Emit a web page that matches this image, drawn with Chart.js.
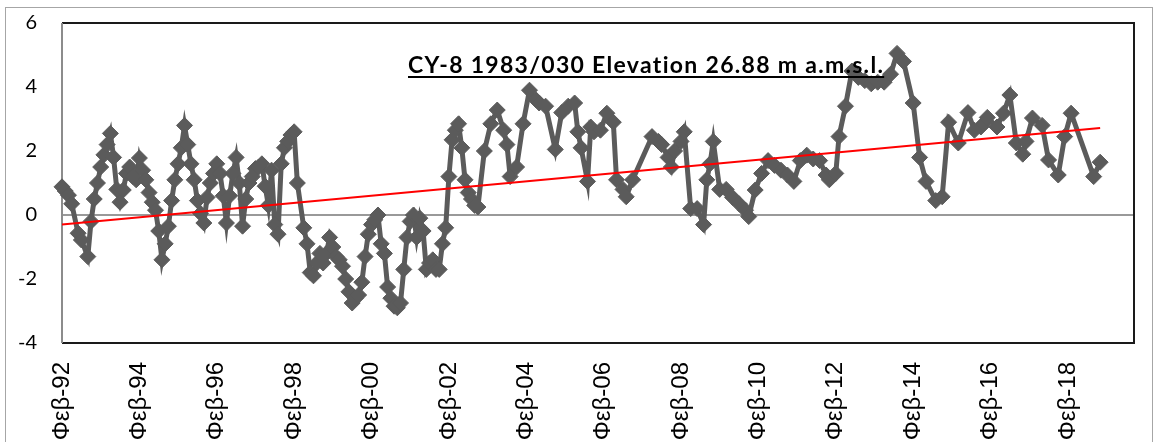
<!DOCTYPE html>
<html><head><meta charset="utf-8">
<script src="https://cdn.jsdelivr.net/npm/chart.js@4.4.1/dist/chart.umd.min.js"></script>
<style>
html,body{margin:0;padding:0;background:#fff;}
#wrap{position:relative;width:1156px;height:442px;overflow:hidden;}
#frame{position:absolute;left:5px;top:7px;width:1148px;height:470px;border:1px solid #a6a6a6;box-sizing:border-box;}
#title{position:absolute;left:408px;top:51px;font-family:Lato;font-weight:bold;font-size:23px;letter-spacing:1.3px;line-height:26px;text-decoration:underline;text-decoration-thickness:2px;text-underline-offset:3px;white-space:nowrap;color:#000;}
canvas{position:absolute;left:0;top:0;}
</style></head><body>
<div id="wrap"><div id="frame"></div><canvas id="c" width="1156" height="442"></canvas><div id="title">CY-8 1983/030 Elevation 26.88 m a.m.s.l.</div></div>
<script>
// months since Feb 1992
const months = [0,1,2,3,5,6,8,9,10,11,12,13,14,15,16,17,18,19,20,21,22,23,24,25,26,27,28,29,30,31,32,33,34,35,36,37,38,39,40,41,42,43,44,45,46,47,48,49,50,51,52,53,54,55,56,57,58,59,60,61,62,63,64,65,66,67,68,69,70,71,72,73,75,76,77,78,79,80,81,82,83,84,85,86,87,88,89,90,91,92,93,94,95,96,97,98,99,100,101,102,103,104,105,106,107,108,109,110,111,112,113,114,115,116,117,118,119,120,121,122,123,124,125,126,127,128,129,131,133,135,137,138,139,141,143,145,147,148,150,153,155,157,159,160,161,163,164,165,167,169,171,172,174,175,177,183,185,186,188,189,190,192,193,195,197,199,200,201,202,204,206,208,210,212,213,215,217,219,221,223,225,227,229,231,233,235,237,238,240,241,243,245,247,249,251,253,255,257,259,261,264,266,268,271,273,275,278,281,283,285,286,287,290,292,294,296,298,299,301,304,306,309,311,313,320,322];
const levels = [0.88,0.75,0.62,0.35,-0.57,-0.78,-1.3,-0.2,0.5,1.0,1.5,1.88,2.2,2.55,1.8,0.8,0.4,0.78,1.3,1.5,1.2,1.1,1.78,1.4,1.1,0.7,0.4,0.15,-0.5,-1.4,-0.9,-0.35,0.45,1.1,1.6,2.1,2.8,2.2,1.6,1.1,0.45,0.05,-0.25,0.55,1.0,1.3,1.6,1.3,0.6,-0.25,0.6,1.3,1.8,1.0,-0.35,0.5,1.0,1.2,1.45,1.5,1.6,0.9,0.3,1.4,-0.3,-0.6,1.6,2.1,2.3,2.5,2.6,1.0,-0.4,-0.9,-1.8,-1.9,-1.5,-1.2,-1.5,-1.2,-0.7,-1.0,-1.3,-1.4,-1.6,-2.0,-2.4,-2.75,-2.6,-2.5,-2.1,-1.3,-0.6,-0.3,-0.15,0.0,-0.9,-1.2,-2.25,-2.6,-2.85,-2.9,-2.75,-1.7,-0.7,-0.2,0.0,-0.7,-0.1,-0.5,-1.7,-1.5,-1.4,-1.7,-1.7,-0.9,-0.4,1.2,2.35,2.65,2.85,2.1,1.1,0.7,0.5,0.3,0.25,2.0,2.85,3.28,2.65,2.2,1.2,1.5,2.85,3.9,3.6,3.5,3.4,2.05,3.2,3.4,3.5,2.6,2.1,1.05,2.75,2.6,2.65,3.18,2.9,1.1,0.8,0.57,1.1,2.45,2.3,2.2,1.8,1.5,2.0,2.3,2.6,0.2,0.2,-0.3,1.1,1.6,2.3,0.8,0.8,0.55,0.35,0.15,-0.05,0.78,1.3,1.7,1.55,1.4,1.25,1.05,1.7,1.87,1.75,1.7,1.25,1.1,1.3,2.45,3.4,4.5,4.3,4.2,4.1,4.15,4.15,4.4,5.05,4.8,3.5,1.8,1.05,0.45,0.57,2.9,2.25,3.2,2.65,2.75,2.87,3.05,2.75,3.18,3.75,2.25,1.9,2.3,3.03,2.8,1.72,1.25,2.45,3.18,1.2,1.65];
// linear trend line end points
const trendMonths = [0, 322];
const trendValues = [-0.3, 2.72];
// x tick labels every 24 months from Feb 1992
const tickLabels = ['Φεβ-92','Φεβ-94','Φεβ-96','Φεβ-98','Φεβ-00','Φεβ-02','Φεβ-04','Φεβ-06','Φεβ-08','Φεβ-10','Φεβ-12','Φεβ-14','Φεβ-16','Φεβ-18'];
const yTicks = [-4,-2,0,2,4,6];

const framePlugin = {
  id: 'frame',
  beforeDatasetsDraw(chart) {
    const {ctx, chartArea: a} = chart;
    ctx.save();
    ctx.lineWidth = 2;
    ctx.strokeStyle = '#1a1a1a';
    ctx.beginPath();
    ctx.moveTo(a.left, a.top); ctx.lineTo(a.right, a.top);
    ctx.lineTo(a.right, a.bottom); ctx.lineTo(a.left, a.bottom);
    ctx.stroke();
    ctx.strokeStyle = '#8c8c8c';
    ctx.beginPath(); ctx.moveTo(a.left, a.top); ctx.lineTo(a.left, a.bottom); ctx.stroke();
    ctx.restore();
  }
};

function zeroPad(s) { s.paddingTop = 0; s.paddingBottom = 0; s.paddingLeft = 0; s.paddingRight = 0; }

new Chart(document.getElementById('c'), {
  type: 'line',
  data: {
    datasets: [
      {
        data: trendMonths.map((m, i) => ({x: m, y: trendValues[i]})),
        borderColor: '#ff0000', borderWidth: 2, pointRadius: 0, clip: false
      },
      {
        data: months.map((m, i) => ({x: m, y: levels[i]})),
        borderColor: '#5b5b5b', borderWidth: 5,
        pointStyle: 'rectRot', pointRadius: 8,
        pointBackgroundColor: '#5b5b5b', pointBorderColor: '#5b5b5b', pointBorderWidth: 1,
        tension: 0, clip: false
      }
    ]
  },
  options: {
    responsive: false, animation: false,
    layout: {padding: {left: 5, right: 22, top: 23, bottom: 0}},
    plugins: {legend: {display: false}, tooltip: {enabled: false}},
    scales: {
      x: {
        type: 'linear', min: 0, max: 332.5,
        grid: {display: false, drawTicks: false},
        border: {display: false},
        afterFit(s) { s.height = 99; zeroPad(s); },
        ticks: {
          stepSize: 24, includeBounds: false, autoSkip: false,
          minRotation: 90, maxRotation: 90, padding: 19,
          color: '#000', font: {family: 'Liberation Sans', size: 24},
          callback: (v) => tickLabels[Math.round(v / 24)] ?? ''
        }
      },
      y: {
        min: yTicks[0], max: yTicks[yTicks.length - 1],
        afterFit(s) { s.width = 57; zeroPad(s); },
        afterBuildTicks(s) { s.ticks = yTicks.map(v => ({value: v})); },
        grid: {drawTicks: false, lineWidth: 2,
          color: (c) => (c.tick && c.tick.value === 0) ? '#999999' : 'rgba(0,0,0,0)'},
        border: {display: false},
        ticks: {padding: 25, color: '#000', font: {family: 'Lato', size: 20}}
      }
    }
  },
  plugins: [framePlugin]
});
</script>
</body></html>
